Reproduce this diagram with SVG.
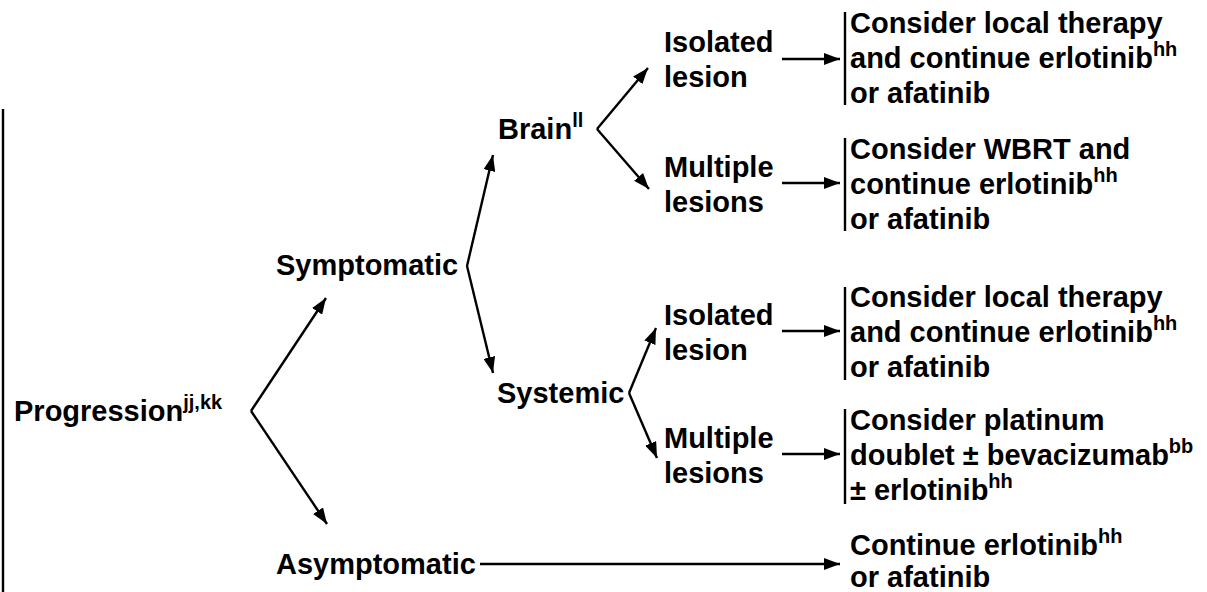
<svg xmlns="http://www.w3.org/2000/svg" width="1207" height="592" viewBox="0 0 1207 592">
<defs>
<marker id="ah" markerWidth="16" markerHeight="12" refX="16" refY="6" orient="auto" markerUnits="userSpaceOnUse"><path d="M0,0 L16,6 L0,12 z" fill="#000"/></marker>
</defs>
<style>
text{font-family:"Liberation Sans",Arial,Helvetica,sans-serif;font-weight:bold;font-size:29px;fill:#000}
.sup{font-size:20px}
.c{stroke:#000;stroke-width:2.4;fill:none;marker-end:url(#ah)}
.br{stroke:#000;stroke-width:2.4}
</style>
<rect width="1207" height="592" fill="#fff"/>
<line class="br" x1="3" y1="109" x2="3" y2="592"/>
<g id="connectors">
<path class="c" d="M251,411 L326,298"/>
<path class="c" d="M251,411 L327,524"/>
<path class="c" d="M467,266 L493,155"/>
<path class="c" d="M467,266 L493,373"/>
<path class="c" d="M597,129 L648,68"/>
<path class="c" d="M597,129 L649,189"/>
<path class="c" d="M629,393 L656,328"/>
<path class="c" d="M629,393 L657,458"/>
<path class="c" d="M782,59 L840,59"/>
<path class="c" d="M782,183 L840,183"/>
<path class="c" d="M782,331 L840,331"/>
<path class="c" d="M782,454 L840,454"/>
<path class="c" d="M480,564 L840,564"/>
</g>
<g id="progression"><text x="14" y="421">Progression<tspan class="sup" dy="-12">jj,kk</tspan></text></g>
<g id="symptomatic"><text x="276" y="275">Symptomatic</text></g>
<g id="asymptomatic"><text x="276" y="574">Asymptomatic</text></g>
<g id="brain"><text x="498" y="139">Brain<tspan class="sup" dy="-12">ll</tspan></text></g>
<g id="systemic"><text x="497" y="403">Systemic</text></g>
<g id="brain-isolated"><text x="664" y="52">Isolated</text><text x="664" y="87">lesion</text></g>
<g id="brain-multiple"><text x="664" y="177">Multiple</text><text x="664" y="212">lesions</text></g>
<g id="sys-isolated"><text x="664" y="325">Isolated</text><text x="664" y="360">lesion</text></g>
<g id="sys-multiple"><text x="664" y="448">Multiple</text><text x="664" y="483">lesions</text></g>
<g id="out-brain-isolated">
<line class="br" x1="845" y1="12" x2="845" y2="105"/>
<text x="850" y="33">Consider local therapy</text>
<text x="850" y="68">and continue erlotinib<tspan class="sup" dy="-12">hh</tspan></text>
<text x="850" y="103">or afatinib</text>
</g>
<g id="out-brain-multiple">
<line class="br" x1="845" y1="138" x2="845" y2="231"/>
<text x="850" y="159">Consider WBRT and</text>
<text x="850" y="194">continue erlotinib<tspan class="sup" dy="-12">hh</tspan></text>
<text x="850" y="229">or afatinib</text>
</g>
<g id="out-sys-isolated">
<line class="br" x1="845" y1="287" x2="845" y2="380"/>
<text x="850" y="307">Consider local therapy</text>
<text x="850" y="342">and continue erlotinib<tspan class="sup" dy="-12">hh</tspan></text>
<text x="850" y="377">or afatinib</text>
</g>
<g id="out-sys-multiple">
<line class="br" x1="845" y1="409" x2="845" y2="504"/>
<text x="850" y="430">Consider platinum</text>
<text x="850" y="465">doublet ± bevacizumab<tspan class="sup" dy="-12">bb</tspan></text>
<text x="850" y="500">± erlotinib<tspan class="sup" dy="-12">hh</tspan></text>
</g>
<g id="out-asymptomatic">
<text x="850" y="555">Continue erlotinib<tspan class="sup" dy="-12">hh</tspan></text>
<text x="850" y="587">or afatinib</text>
</g>
</svg>
